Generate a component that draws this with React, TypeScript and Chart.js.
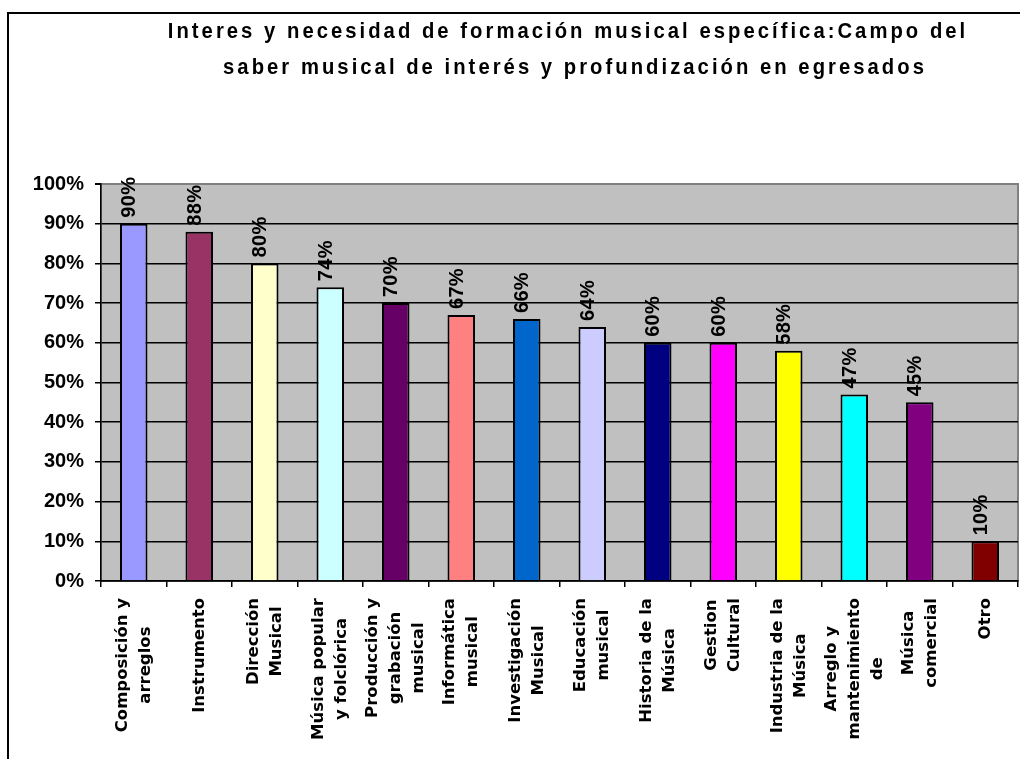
import React, { useEffect, useRef } from 'react';
import { Chart, registerables } from 'chart.js';

Chart.register(...registerables);

const TITLE_LINES = [
  'Interes y necesidad de formación musical específica:Campo del',
  'saber musical de interés y profundización en egresados',
];

const CATEGORIES: string[][] = [
  ['Composición y', 'arreglos'],
  ['Instrumento'],
  ['Dirección', 'Musical'],
  ['Música popular', 'y folclórica'],
  ['Producción y', 'grabación', 'musical'],
  ['Informática', 'musical'],
  ['Investigación', 'Musical'],
  ['Educación', 'musical'],
  ['Historia de la', 'Música'],
  ['Gestion', 'Cultural'],
  ['Industria de la', 'Música'],
  ['Arreglo y', 'mantenimiento', 'de'],
  ['Música', 'comercial'],
  ['Otro'],
];

const VALUES = [90, 88, 80, 74, 70, 67, 66, 64, 60, 60, 58, 47, 45, 10];

const COLORS = [
  '#9999FF', '#993366', '#FFFFCC', '#CCFFFF', '#660066', '#FF8080', '#0066CC',
  '#CCCCFF', '#000080', '#FF00FF', '#FFFF00', '#00FFFF', '#800080', '#800000',
];

const Y_MIN = 0;
const Y_MAX = 100;
const Y_STEP = 10;

const ARIAL = '"Liberation Sans", Arial, sans-serif';

const decorPlugin = {
  id: 'decor',
  beforeDraw(chart: any) {
    const { ctx, chartArea } = chart;
    ctx.save();
    ctx.fillStyle = '#FFFFFF';
    ctx.fillRect(0, 0, chart.width, chart.height);
    ctx.strokeStyle = '#000';
    ctx.lineWidth = 2;
    ctx.beginPath();
    ctx.moveTo(8, chart.height + 5);
    ctx.lineTo(8, 13);
    ctx.lineTo(chart.width + 5, 13);
    ctx.stroke();
    ctx.fillStyle = '#C0C0C0';
    ctx.fillRect(chartArea.left, chartArea.top, chartArea.right - chartArea.left, chartArea.bottom - chartArea.top);
    ctx.strokeStyle = '#808080';
    ctx.lineWidth = 2;
    ctx.strokeRect(chartArea.left, chartArea.top, chartArea.right - chartArea.left, chartArea.bottom - chartArea.top);
    ctx.restore();
  },
  afterDraw(chart: any) {
    const { ctx } = chart;
    const xScale = chart.scales.x;
    const meta = chart.getDatasetMeta(0);
    ctx.save();
    ctx.fillStyle = '#000';
    ctx.font = `bold 22px ${ARIAL}`;
    (ctx as any).letterSpacing = '3.3px';
    ctx.textAlign = 'center';
    ctx.textBaseline = 'middle';
    const sx = 0.92;
    ctx.save();
    ctx.scale(sx, 1);
    ctx.fillText(TITLE_LINES[0], 568 / sx, 32);
    ctx.fillText(TITLE_LINES[1], 575 / sx, 68);
    ctx.restore();

    ctx.font = `bold 20px ${ARIAL}`;
    (ctx as any).letterSpacing = '0.3px';
    meta.data.forEach((el: any, i: number) => {
      ctx.save();
      ctx.translate(el.x - 4, el.y - 6);
      ctx.rotate(-Math.PI / 2);
      ctx.textAlign = 'left';
      ctx.textBaseline = 'middle';
      ctx.fillText(VALUES[i] + '%', 0, 0);
      ctx.restore();
    });

    ctx.font = `bold 16.5px "DejaVu Sans", sans-serif`;
    (ctx as any).letterSpacing = '0px';
    const top = 598;
    const gap = 23;
    CATEGORIES.forEach((lines, i) => {
      const cx = xScale.getPixelForTick(i);
      const maxW = Math.max(...lines.map((l) => ctx.measureText(l).width));
      lines.forEach((line, j) => {
        const x = cx + (j - (lines.length - 1) / 2) * gap;
        ctx.save();
        ctx.translate(x, top + maxW / 2);
        ctx.rotate(-Math.PI / 2);
        ctx.textAlign = 'center';
        ctx.textBaseline = 'middle';
        ctx.fillText(line, 0, 0);
        ctx.restore();
      });
    });
    ctx.restore();
  },
};

export default function App() {
  const ref = useRef<HTMLCanvasElement | null>(null);
  useEffect(() => {
    if (!ref.current) return;
    const chart = new Chart(ref.current, {
      type: 'bar',
      data: {
        labels: CATEGORIES.map((l) => l.join(' ')),
        datasets: [
          {
            data: VALUES,
            backgroundColor: COLORS,
            borderColor: '#000',
            borderWidth: 2,
            barPercentage: 0.42,
            categoryPercentage: 1,
          },
        ],
      },
      options: {
        responsive: false,
        animation: false,
        devicePixelRatio: 1,
        layout: { padding: { top: 184, right: 2, left: 0, bottom: 0 } },
        plugins: {
          legend: { display: false },
          title: { display: false },
          tooltip: { enabled: false },
        },
        scales: {
          x: {
            grid: {
              display: true,
              drawOnChartArea: false,
              drawTicks: true,
              tickLength: 6,
              color: '#000',
              lineWidth: 1.5,
              offset: true,
            },
            border: { color: '#000', width: 1.5 },
            ticks: { display: false },
            afterFit: (s: any) => {
              s.height = 178;
            },
          },
          y: {
            min: Y_MIN,
            max: Y_MAX,
            ticks: {
              stepSize: Y_STEP,
              callback: (v: any) => v + '%',
              color: '#000',
              padding: 11,
              font: { family: ARIAL, size: 20, weight: 'bold' },
            },
            grid: {
              color: (c: any) => (c.tick && c.tick.value === Y_MAX ? '#808080' : '#000'),
              lineWidth: (c: any) => (c.tick && c.tick.value === Y_MAX ? 2 : 1.5),
              tickColor: '#000',
              tickLength: 6,
            },
            border: { color: '#000', width: 1.5 },
            afterFit: (s: any) => {
              s.width = 101;
            },
          },
        },
      },
      plugins: [decorPlugin],
    });
    return () => chart.destroy();
  }, []);
  return (
    <div style={{ position: 'absolute', left: 0, top: 0, width: 1020, height: 759 }}>
      <canvas ref={ref} width={1020} height={759} />
    </div>
  );
}
